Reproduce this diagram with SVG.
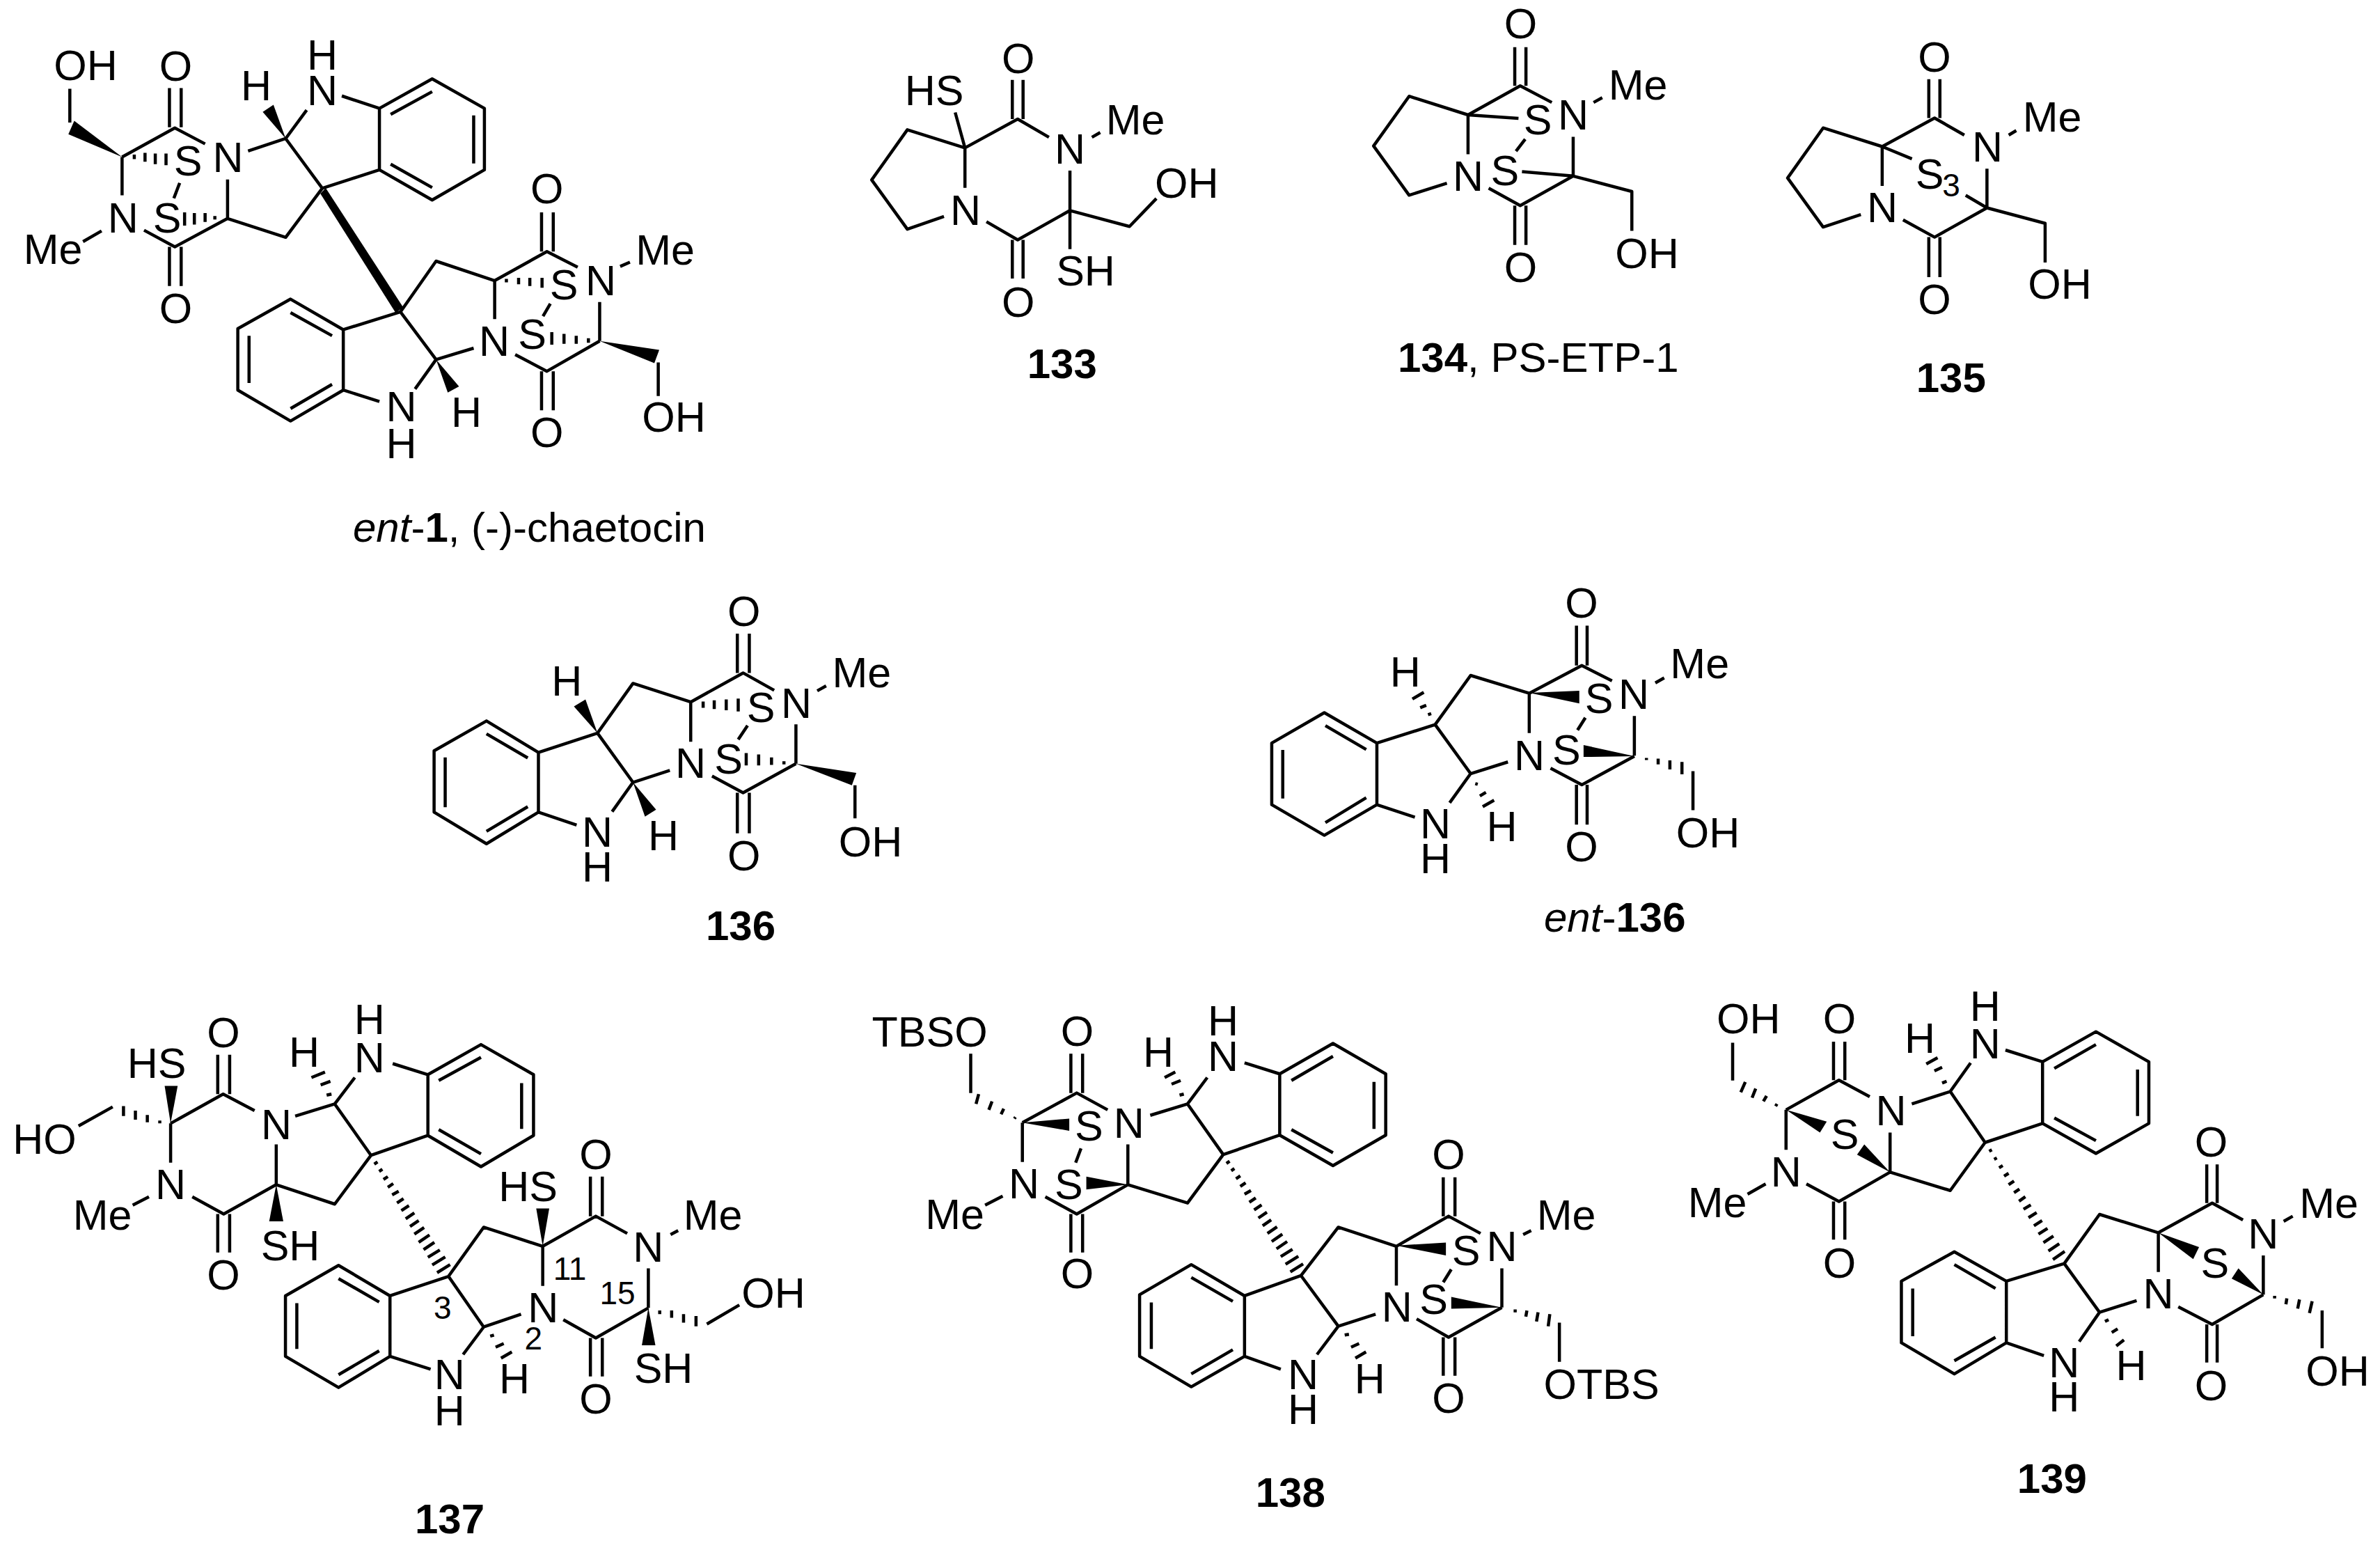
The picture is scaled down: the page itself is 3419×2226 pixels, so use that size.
<svg xmlns="http://www.w3.org/2000/svg" width="3419" height="2226" viewBox="0 0 3419 2226">
<style>
.b{fill:none;stroke:#000;stroke-width:4.5;vector-effect:non-scaling-stroke;stroke-linejoin:round}
.w{fill:#000;stroke:none}
text{font-family:"Liberation Sans",Arial,sans-serif;fill:#000}
.t{font-size:61px;text-anchor:middle}
.n{font-size:46px;text-anchor:middle}
.c{font-size:60px}
.cm{font-size:60px;text-anchor:middle;font-weight:bold}
.bd{font-weight:bold}
.it{font-style:italic}
</style>
<rect width="3419" height="2226" fill="#fff"/>

<g id="ent-1">
<g transform="scale(.7015,.5102)">
<path class="b" d="M143 250L143 345M250 442L358 360L420 405M347 248L347 358M371 248L371 358M250 442L250 550M275 435L275 448M297 430L297 455M318 432L318 462M340 432L340 465M368 515L356 558M208 650L170 680M295 648L358 695L466 615M347 695L347 805M371 695L371 805M466 615L466 505M440 608L440 618M420 600L420 625M398 600L398 632M378 598L378 635M466 615L585 668L660 530M508 425L585 390L660 530M585 390L628 310M700 270L777 305M777 305L885 222L992 305L992 478L885 563L777 478ZM800 322L885 258M970 325L970 460M885 528L800 462M660 530L777 478"/>
<polygon class="w" points="250,442 152,340 140,378"/>
<polygon class="w" points="585,390 538,315 560,295"/>
<polygon class="w" points="656,545 667,529 826,866 810,880"/>
<path class="b" d="M820 878L893 735L1013 790L1120 708L1183 752M1109 598L1109 708M1133 598L1133 708M1013 790L1013 898M1037 785L1037 795M1062 782L1062 800M1085 782L1085 805M1110 782L1110 810M1127 855L1112 890M1270 750L1290 738M1228 850L1228 960M1348 1020L1348 1115M1205 952L1205 965M1180 945L1180 968M1155 940L1155 968M1130 935L1130 970M1228 960L1120 1045L1055 998M1109 1045L1109 1155M1133 1045L1133 1155M970 980L893 1012L820 878M893 1012L850 1095M777 1130L703 1098M703 928L595 842L487 925L487 1098L595 1185L703 1098ZM595 880L680 945M510 945L510 1078M595 1150L680 1082M703 928L820 878"/>
<polygon class="w" points="1228,960 1350,985 1340,1022"/>
<polygon class="w" points="893,1012 917,1105 940,1088"/>
</g>
<text class="t" x="123" y="115">OH</text><text class="t" x="252.500" y="116">O</text><text class="t" x="368" y="144">H</text><text class="t" x="463" y="99.500">H</text><text class="t" x="463" y="151">N</text><text class="t" x="270" y="251.500">S</text><text class="t" x="327.600" y="246.500">N</text><text class="t" x="176.800" y="334">N</text><text class="t" x="240" y="334">S</text><text class="t" x="76" y="378.600">Me</text><text class="t" x="252.500" y="464">O</text><text class="t" x="785.700" y="292">O</text><text class="t" x="955.500" y="380">Me</text><text class="t" x="810" y="429.600">S</text><text class="t" x="863" y="423.500">N</text><text class="t" x="710" y="511">N</text><text class="t" x="764.600" y="501">S</text><text class="t" x="670" y="613">H</text><text class="t" x="576.600" y="604.600">N</text><text class="t" x="576.600" y="658">H</text><text class="t" x="785.700" y="642">O</text><text class="t" x="968" y="620">OH</text>
<text class="c" x="507" y="778"><tspan class="it">ent</tspan>-<tspan class="bd">1</tspan>, (-)-chaetocin</text>
</g>

<g id="c133">
<g transform="translate(1100,0) scale(.7015,.3827)">
<path class="b" d="M408 555L290 487L217 675L290 860L365 812M408 555L408 705M388 422L408 555M408 555L516 447L580 515M505 300L505 447M527 300L527 447M668 515L685 497M623 640L623 935M623 790L516 900L452 832M623 790L745 850L800 745M505 900L505 1045M527 900L527 1045"/>
</g>
<text class="t" x="1462.700" y="105">O</text><text class="t" x="1342" y="151">HS</text><text class="t" x="1537" y="235">N</text><text class="t" x="1631" y="192.500">Me</text><text class="t" x="1387" y="323">N</text><text class="t" x="1704.700" y="284">OH</text><text class="t" x="1559.500" y="410">SH</text><text class="t" x="1462.700" y="454.600">O</text>
<text class="cm" x="1525.800" y="543">133</text>
</g>

<g id="c134">
<g transform="translate(1950,0) scale(.3571,.3571)">
<path class="b" d="M445 462L208 387L65 587L208 785L360 737M445 462L445 620M445 462L655 345L782 412M633 190L633 345M678 190L678 345M445 462L648 476M675 560L638 608M950 412L985 393M868 550L868 708L662 690M868 708L655 827L528 757M868 708L1104 770L1104 928M633 827L633 985M678 827L678 985"/>
</g>
<text class="t" x="2184.600" y="55.400">O</text><text class="t" x="2353" y="143">Me</text><text class="t" x="2209" y="193">S</text><text class="t" x="2260" y="186.400">N</text><text class="t" x="2161.800" y="266">S</text><text class="t" x="2109" y="274">N</text><text class="t" x="2184.600" y="404.600">O</text><text class="t" x="2366" y="385">OH</text>
<text class="c" x="2008" y="534"><tspan class="bd">134</tspan>, PS-ETP-1</text>
</g>

<g id="c135">
<g transform="translate(2200,0) scale(.6378,.3827)">
<path class="b" d="M790 550L657 480L577 668L657 852L742 805M790 550L790 698M790 550L908 443L975 507M895 297L895 443M920 297L920 443M790 550L857 596M1075 507L1092 490M1026 633L1026 780L978 733M1026 780L908 890L837 825M1026 780L1157 838L1157 985M895 890L895 1040M920 890L920 1040"/>
</g>
<text class="t" x="2779" y="102.600">O</text><text class="t" x="2855" y="231.500">N</text><text class="t" x="2948" y="189.400">Me</text><text class="t" x="2772" y="271">S</text><text class="n" x="2803" y="282.400">3</text><text class="t" x="2704" y="319">N</text><text class="t" x="2779" y="451">O</text><text class="t" x="2959" y="429.400">OH</text>
<text class="cm" x="2802.700" y="563">135</text>
</g>

<g id="c136">
<g transform="translate(600,820) scale(.6378,.3571)">
<path class="b" d="M272 730L155 603L37 723L37 970L155 1097L272 970ZM155 655L248 752M62 750L62 950M155 1047L248 948M272 730L405 652L485 452L615 527L733 410L803 480M720 252L720 410M747 252L747 410M615 527L615 687M643 525L643 550M668 520L668 555M695 517L695 560M722 513L722 565M743 622L722 678M900 482L920 462M852 617L852 775M985 862L985 995M825 765L825 778M797 750L797 780M768 738L768 782M740 732L740 782M852 775L733 892L663 825M720 892L720 1055M747 892L747 1055M568 802L485 850L405 652M485 850L438 968M272 970L358 1022"/>
<polygon class="w" points="852,775 988,812 978,862"/>
<polygon class="w" points="405,652 352,545 378,517"/>
<polygon class="w" points="485,850 512,988 537,960"/>
</g>
<text class="t" x="1068.800" y="899.300">O</text><text class="t" x="814.300" y="998.600">H</text><text class="t" x="1237.800" y="987">Me</text><text class="t" x="1093" y="1037">S</text><text class="t" x="1144" y="1030.700">N</text><text class="t" x="992" y="1117">N</text><text class="t" x="1046.500" y="1111">S</text><text class="t" x="953" y="1221">H</text><text class="t" x="858" y="1216.400">N</text><text class="t" x="858" y="1266.400">H</text><text class="t" x="1068.800" y="1249.600">O</text><text class="t" x="1250.600" y="1229.600">OH</text>
<text class="cm" x="1064" y="1350">136</text>
</g>

<g id="ent-136">
<g transform="translate(1780,820) scale(.5102,.3571)">
<path class="b" d="M388 692L240 570L92 692L92 940L240 1063L388 940ZM243 622L358 718M123 720L123 915M243 1012L358 912M388 692L552 618L652 420L817 492L965 380L1050 442M950 220L950 380M980 220L980 380M817 492L817 652M975 590L953 640M1172 450L1197 430M1113 583L1113 743M1113 745L965 860L877 793M950 860L950 1020M980 860L980 1020M1147 752L1147 760M1180 755L1180 778M1213 762L1213 798M1247 768L1247 818M1278 805L1278 962M757 768L652 815L552 618M652 815L593 932M388 940L495 990M532 578L541 574M510 550L527 540M488 515L520 488M665 855L672 858M678 905L695 890M686 948L718 922"/>
<polygon class="w" points="817,490 958,482 958,533"/>
<polygon class="w" points="1113,745 970,700 970,748"/>
</g>
<text class="t" x="2272" y="886.800">O</text><text class="t" x="2018.800" y="986">H</text><text class="t" x="2441.700" y="974">Me</text><text class="t" x="2297" y="1024">S</text><text class="t" x="2347" y="1017.500">N</text><text class="t" x="2197" y="1106.400">N</text><text class="t" x="2250.400" y="1097.800">S</text><text class="t" x="2157.500" y="1208">H</text><text class="t" x="2062" y="1204">N</text><text class="t" x="2062" y="1254">H</text><text class="t" x="2272" y="1237">O</text><text class="t" x="2453.500" y="1217">OH</text>
<text class="c" x="2218" y="1337.800"><tspan class="it">ent</tspan>-<tspan class="bd">136</tspan></text>
</g>

<g id="c137">
<g transform="translate(0,1400) scale(.7781,.5268)">
<path class="b" d="M315 405L412 325L470 370M402 218L402 325M424 218L424 325M315 405L315 512M295 397L295 405M272 382L272 402M250 370L250 395M228 358L228 385M208 360L145 412M275 605L245 628M355 605L413 652L510 572L510 462M402 652L402 757M424 652L424 757M510 572L618 625L685 492M545 385L618 352L685 492M618 352L655 280M603 328L612 325M592 300L610 290M575 280L600 265M725 242L790 272M790 272L888 190L985 272L985 438L888 523L790 438ZM810 288L888 225M963 295L963 420M810 422L888 488M685 492L790 438M691 516L697 510M700 536L706 530M708 558L716 550M716 579L726 569M724 600L736 590M733 622L745 610M741 643L755 629M749 665L765 649M757 686L773 670M765 707L783 689M773 729L793 709M782 749L802 729M790 770L812 750M798 791L822 769M807 812L831 790"/>
<polygon class="w" points="315,405 304,303 328,303"/>
<polygon class="w" points="510,572 497,672 523,672"/>
<path class="b" d="M828 822L893 688L1002 740L1100 658L1158 705M1090 550L1090 658M1112 550L1112 658M1002 740L1002 848M1238 708L1252 697M1197 800L1197 908M1218 915L1218 925M1240 915L1240 935M1262 925L1262 948M1285 930L1285 958M1305 952L1365 900M1197 908L1100 990L1040 940M1090 990L1090 1095M1112 990L1112 1095M962 925L893 960L828 822M893 960L855 1035M905 985L912 982M915 1015L930 1005M925 1045L945 1028M795 1075L720 1040M720 875L625 792L527 875L527 1040L625 1125L720 1040ZM625 828L700 892M548 895L548 1020M625 1090L700 1025M720 875L828 822"/>
<polygon class="w" points="1002,740 990,637 1014,637"/>
<polygon class="w" points="1197,908 1185,1010 1210,1010"/>
</g>
<text class="t" x="530.700" y="1485">H</text><text class="t" x="530.700" y="1539.600">N</text><text class="t" x="321" y="1504">O</text><text class="t" x="225" y="1547.500">HS</text><text class="t" x="437" y="1531.700">H</text><text class="t" x="64" y="1656.600">HO</text><text class="t" x="397" y="1635.500">N</text><text class="t" x="245" y="1722.400">N</text><text class="t" x="147" y="1766">Me</text><text class="t" x="417" y="1810">SH</text><text class="t" x="321" y="1851.500">O</text><text class="t" x="856" y="1679">O</text><text class="t" x="758.600" y="1725">HS</text><text class="t" x="1024" y="1766">Me</text><text class="t" x="931.400" y="1812">N</text><text class="n" x="818.600" y="1838.300">11</text><text class="n" x="887" y="1872.500">15</text><text class="t" x="1111" y="1878">OH</text><text class="t" x="780.400" y="1899.400">N</text><text class="n" x="635.700" y="1894">3</text><text class="n" x="766.400" y="1938.400">2</text><text class="t" x="953" y="1986">SH</text><text class="t" x="739" y="2000.600">H</text><text class="t" x="645.800" y="1995.300">N</text><text class="t" x="645.800" y="2047">H</text><text class="t" x="856" y="2029.500">O</text>
<text class="cm" x="646" y="2201.800">137</text>
</g>

<g id="c138">
<g transform="translate(1220,1400) scale(.7653,.5268)">
<path class="b" d="M228 215L228 322M243 325L238 352M268 345L262 368M290 365L285 380M312 388L310 392M325 403L427 322L485 368M416 215L416 322M438 215L438 322M325 403L325 510M435 473L425 512M288 603L255 628M368 605L427 652L523 572L523 462M416 652L416 757M438 652L438 757M523 572L635 622L702 490M565 383L635 352L702 490M635 352L672 280M620 328L628 325M605 298L622 288M592 280L612 265M742 240L808 270M808 270L908 187L1007 270L1007 437L908 520L808 437ZM830 288L908 222M985 292L985 420M830 422L908 485M702 490L808 437M708 514L714 508M717 534L723 528M726 556L734 548M734 577L744 567M742 598L754 588M751 620L763 608M760 641L774 627M768 663L784 647M776 684L792 668M785 705L803 687M793 727L813 707M802 747L822 727M810 768L832 748M819 789L843 767M828 810L852 788"/>
<polygon class="w" points="325,403 413,392 413,425"/>
<polygon class="w" points="523,572 445,550 445,585"/>
<path class="b" d="M848 820L918 688L1027 740L1125 658L1185 705M1115 552L1115 658M1137 552L1137 658M1027 740L1027 847M1130 803L1115 838M1265 708L1280 697M1225 800L1225 907M1250 912L1250 920M1272 915L1270 932M1293 920L1290 945M1315 925L1312 958M1333 948L1333 1055M1225 907L1125 988L1065 938M1115 988L1115 1093M1137 988L1137 1093M988 925L918 958L848 820M918 958L878 1035M930 982L938 980M942 1015L957 1005M950 1045L970 1028M810 1075L742 1040M742 875L642 790L545 872L545 1040L642 1123L742 1040ZM642 825L720 890M567 893L567 1020M642 1088L720 1022M742 875L848 820"/>
<polygon class="w" points="1027,738 1120,730 1120,765"/>
<polygon class="w" points="1225,907 1130,878 1130,910"/>
</g>
<text class="t" x="1335.600" y="1502.700">TBSO</text><text class="t" x="1547.500" y="1501.700">O</text><text class="t" x="1757" y="1487">H</text><text class="t" x="1757" y="1538">N</text><text class="t" x="1664" y="1531.700">H</text><text class="t" x="1564.400" y="1638">S</text><text class="t" x="1621.800" y="1634.400">N</text><text class="t" x="1471" y="1721.400">N</text><text class="t" x="1535.300" y="1722.400">S</text><text class="t" x="1371.500" y="1765">Me</text><text class="t" x="1547.500" y="1850">O</text><text class="t" x="2081" y="1679">O</text><text class="t" x="2250" y="1766">Me</text><text class="t" x="2106" y="1817">S</text><text class="t" x="2157.500" y="1811">N</text><text class="t" x="2006.700" y="1898">N</text><text class="t" x="2059.500" y="1887.300">S</text><text class="t" x="1967.700" y="2000.600">H</text><text class="t" x="1872" y="1995.300">N</text><text class="t" x="1872" y="2045.300">H</text><text class="t" x="2081" y="2028.500">O</text><text class="t" x="2300.600" y="2008.500">OTBS</text>
<text class="cm" x="1853.700" y="2163.900">138</text>
</g>

<g id="c139">
<g transform="translate(2400,1400) scale(.6499,.5268)">
<path class="b" d="M137 185L137 288M165 292L155 320M188 310L180 335M212 330L205 345M235 352L232 358M255 368L372 287L440 332M360 182L360 287M385 182L385 287M255 368L255 477M300 570L372 618L485 538L485 430M360 618L360 722M385 618L385 722M210 570L170 598M485 538L618 588L695 457M533 352L618 318L695 457M618 318L663 240M600 295L610 290M583 262L600 252M565 243L590 226M740 205L822 237M822 237L940 155L1057 237L1057 405L940 487L822 405ZM848 255L940 190M1032 258L1032 385M848 390L940 452M695 457L822 405M704 481L710 477M715 503L721 499M726 526L734 520M737 549L747 541M747 572L759 562M759 594L771 584M770 617L784 605M780 639L796 627M791 662L809 648M803 684L821 670M813 707L833 691M824 730L846 712M835 753L859 733M845 776L871 754"/>
<polygon class="w" points="255,368 345,400 330,430"/>
<polygon class="w" points="485,538 428,462 412,490"/>
<path class="b" d="M870 787L948 653L1078 703L1197 622L1265 668M1185 517L1185 622M1208 517L1208 622M1078 703L1078 810M1355 672L1375 658M1310 765L1310 872M1335 875L1335 882M1362 882L1360 898M1390 885L1386 910M1418 890L1412 922M1440 915L1440 1018M1310 872L1197 953L1122 905M1185 953L1185 1057M1208 953L1208 1057M1030 888L948 920L870 787M948 920L903 1000M960 945L968 940M975 975L988 965M985 1012L1002 995M825 1038L742 1003M742 835L627 755L510 835L510 1003L627 1088L742 1003ZM627 790L718 855M535 855L535 985M627 1052L718 988M742 835L870 787"/>
<polygon class="w" points="1078,703 1168,742 1155,775"/>
<polygon class="w" points="1310,872 1255,800 1240,828"/>
</g>
<text class="t" x="2851.700" y="1466">H</text><text class="t" x="2851.700" y="1519.600">N</text><text class="t" x="2511.800" y="1484.300">OH</text><text class="t" x="2642.400" y="1484.300">O</text><text class="t" x="2758" y="1511.700">H</text><text class="t" x="2716.500" y="1616">N</text><text class="t" x="2650" y="1650">S</text><text class="t" x="2565.700" y="1704">N</text><text class="t" x="2467" y="1747.700">Me</text><text class="t" x="2642.400" y="1834.600">O</text><text class="t" x="3176.600" y="1660.800">O</text><text class="t" x="3345.600" y="1748.700">Me</text><text class="t" x="3251.400" y="1792.500">N</text><text class="t" x="3181.800" y="1834.600">S</text><text class="t" x="3100.600" y="1879.400">N</text><text class="t" x="3061.600" y="1982">H</text><text class="t" x="2965.400" y="1977.900">N</text><text class="t" x="2965.400" y="2027">H</text><text class="t" x="3176.600" y="2011">O</text><text class="t" x="3358" y="1990">OH</text>
<text class="cm" x="2947.900" y="2143.900">139</text>
</g>
</svg>
